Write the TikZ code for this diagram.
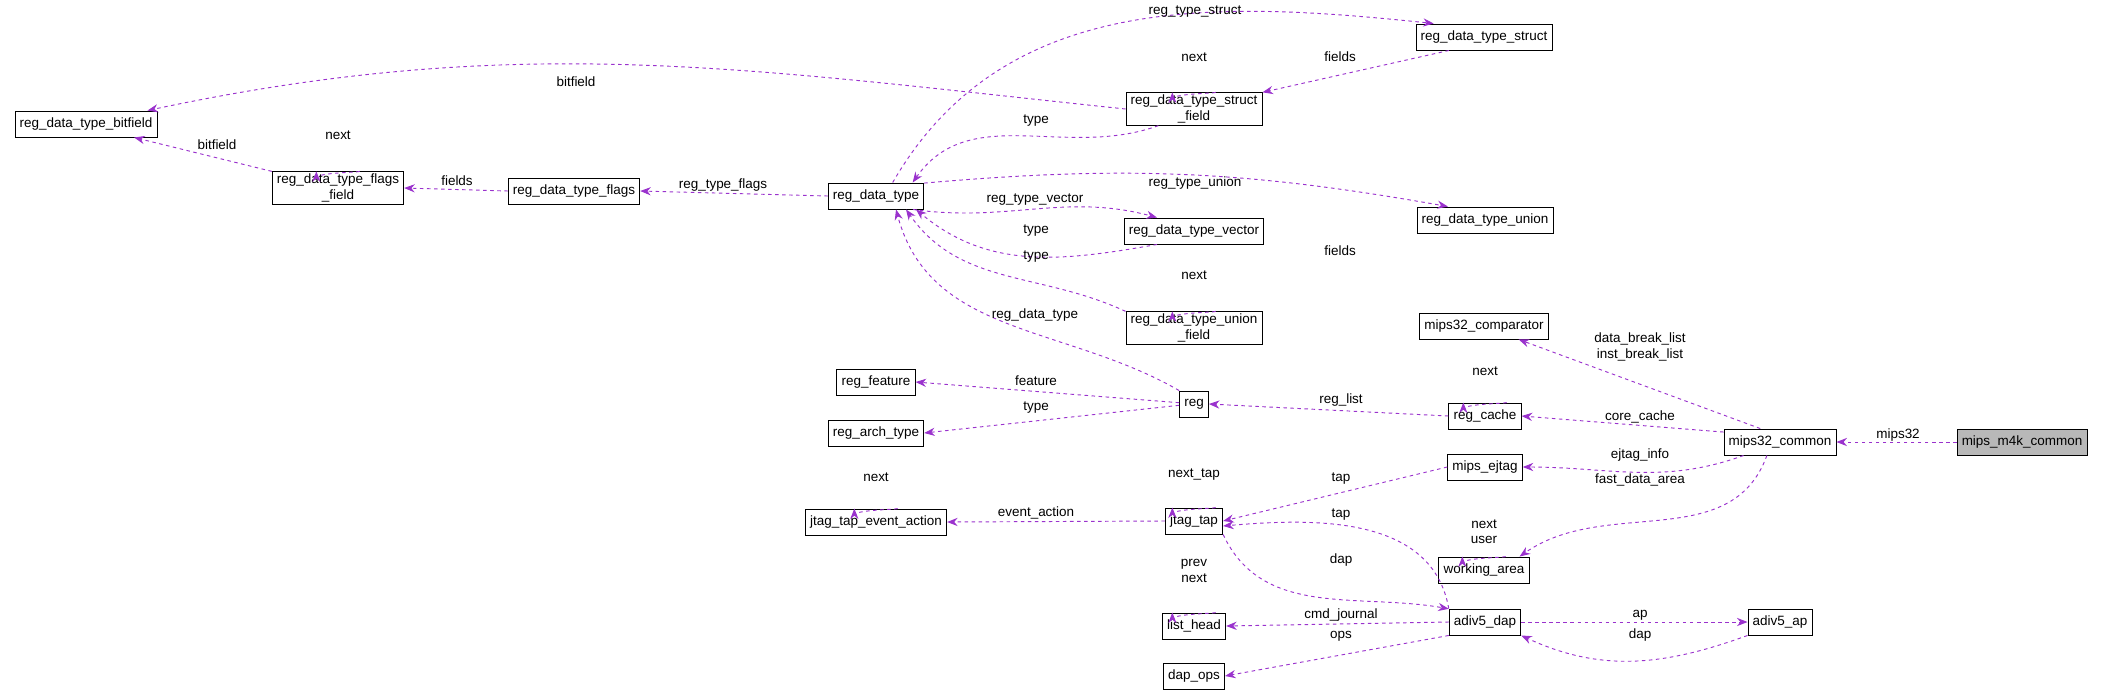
\documentclass[tikz,border=0pt]{standalone}
\usepackage{fontspec}
\setmainfont{Liberation Sans}
\usetikzlibrary{arrows.meta}
\definecolor{edgepurple}{HTML}{9A32CD}

\begin{document}
\begin{tikzpicture}[x=0.03cm,y=-0.03cm,
    box/.style={draw=black,thick,fill=white,font=\fontsize{11.5}{13}\selectfont,
      inner xsep=4pt,inner ysep=2pt,minimum height=0.78cm,align=center},
    lbl/.style={font=\fontsize{11.5}{13}\selectfont,inner sep=1pt,align=center},
    edge/.style={draw=edgepurple,thick,dashed,-{Stealth[length=9pt,width=7pt]}},
    selfloop/.style={edge,looseness=1}]

        % Page frame
        \useasboundingbox (0,0) rectangle (2104,695);

        % Classes
        \node[box] (bitfield) at (86,124)   {reg\_data\_type\_bitfield};
        \node[box] (ffield)   at (338,188)  {reg\_data\_type\_flags\\\_field};
        \node[box] (flags)    at (574,191)  {reg\_data\_type\_flags};
        \node[box] (rdt)      at (876,196)  {reg\_data\_type};
        \node[box] (struct)   at (1484,37)  {reg\_data\_type\_struct};
        \node[box] (sfield)   at (1194,109) {reg\_data\_type\_struct\\\_field};
        \node[box] (union)    at (1485,220) {reg\_data\_type\_union};
        \node[box] (vector)   at (1194,231) {reg\_data\_type\_vector};
        \node[box] (ufield)   at (1194,328) {reg\_data\_type\_union\\\_field};
        \node[box] (cmp)      at (1484,326) {mips32\_comparator};
        \node[box] (feature)  at (876,382)  {reg\_feature};
        \node[box] (arch)     at (876,433)  {reg\_arch\_type};
        \node[box] (reg)      at (1194,404) {reg};
        \node[box] (rcache)   at (1485,416) {reg\_cache};
        \node[box] (m32)      at (1780,442) {mips32\_common};
        \node[box,fill=black!28] (m4k) at (2022,442) {mips\_m4k\_common};
        \node[box] (ejtag)    at (1485,467) {mips\_ejtag};
        \node[box] (jtea)     at (876,522)  {jtag\_tap\_event\_action};
        \node[box] (jtap)     at (1194,521) {jtag\_tap};
        \node[box] (warea)    at (1484,570) {working\_area};
        \node[box] (lhead)    at (1194,626) {list\_head};
        \node[box] (dap)      at (1485,622) {adiv5\_dap};
        \node[box] (ap)       at (1780,622) {adiv5\_ap};
        \node[box] (ops)      at (1194,676) {dap\_ops};

        % Members
        \draw[edge] (sfield.west) to[out=174,in=12] ([xshift=-0.3cm]bitfield.north east);
        \draw[edge] (ffield.north west) -- ([xshift=-0.7cm]bitfield.south east);
        \draw[edge] (flags.west) -- (ffield.east);
        \draw[edge] (rdt.west) -- (flags.east);
        \draw[edge] ([xshift=0.5cm]rdt.north) to[out=60,in=174] (struct.165);
        \draw[edge] ([xshift=1cm]struct.south west) -- (sfield.north east);
        \draw[edge] (sfield.205) to[out=200,in=55] ([xshift=1.1cm]rdt.north);
        \draw[edge] (rdt.15) to[out=5,in=170] (union.160);
        \draw[edge] (rdt.-20) to[out=-8,in=165] (vector.160);
        \draw[edge] (vector.200) to[out=190,in=-40] ([xshift=1.2cm]rdt.south);
        \draw[edge] (ufield.north west) to[out=155,in=-55] ([xshift=0.9cm]rdt.south);
        \draw[edge] (reg.north west) to[out=150,in=-75] ([xshift=0.6cm]rdt.south);
        \draw[edge] (reg.175) -- (feature.east);
        \draw[edge] (reg.185) -- (arch.east);
        \draw[edge] (rcache.west) -- (reg.east);
        \draw[edge] ([xshift=1.1cm]m32.north west) -- ([xshift=-0.9cm]cmp.south east);
        \draw[edge] (m32.170) -- (rcache.east);
        \draw[edge] (m4k.west) -- (m32.east);
        \draw[edge] ([xshift=0.6cm]m32.south west) to[out=200,in=0] (ejtag.east);
        \draw[edge] ([xshift=1.3cm]m32.south west) to[out=-110,in=35] ([xshift=-0.3cm]warea.north east);
        \draw[edge] (ejtag.west) -- (jtap.east);
        \draw[edge] (jtap.west) -- (jtea.east);
        \draw[edge] (dap.north west) to[out=100,in=5] ([yshift=-0.15cm]jtap.east);
        \draw[edge] (jtap.south east) to[out=-65,in=170] (dap.160);
        \draw[edge] (dap.west) -- (lhead.east);
        \draw[edge] (dap.south west) -- (ops.east);
        \draw[edge] (dap.east) -- (ap.west);
        \draw[edge] (ap.south west) to[out=200,in=-25] (dap.south east);

        % Self references
        \foreach \n in {ffield,sfield,ufield,rcache,warea,jtap,jtea,lhead}
        {
            \draw[selfloop] ([xshift=0.65cm]\n.north) .. controls +(0,1.1) and +(0,1.1) .. ([xshift=-0.65cm]\n.north);
        }

        % Labels
        \node[lbl] (l1)  at (576,82)    {bitfield};
        \node[lbl] (l2)  at (217,145)   {bitfield};
        \node[lbl] (l3)  at (338,135)   {next};
        \node[lbl] (l4)  at (457,181)   {fields};
        \node[lbl] (l5)  at (723,185)   {reg\_type\_flags};
        \node[lbl] (l6)  at (1195,12)   {reg\_type\_struct};
        \node[lbl] (l7)  at (1340,57)   {fields};
        \node[lbl] (l8)  at (1194,57)   {next};
        \node[lbl] (l9)  at (1036,121)  {type};
        \node[lbl] (l10) at (1195,183)  {reg\_type\_union};
        \node[lbl] (l11) at (1035,200)  {reg\_type\_vector};
        \node[lbl] (l12) at (1036,231)  {type};
        \node[lbl] (l13) at (1036,257)  {type};
        \node[lbl] (l14) at (1340,251)  {fields};
        \node[lbl] (l15) at (1194,275)  {next};
        \node[lbl] (l16) at (1035,315)  {reg\_data\_type};
        \node[lbl] (l17) at (1036,381)  {feature};
        \node[lbl] (l18) at (1036,408)  {type};
        \node[lbl] (l19) at (1341,400)  {reg\_list};
        \node[lbl] (l20) at (1485,371)  {next};
        \node[lbl] (l21) at (1640,347)  {data\_break\_list\\inst\_break\_list};
        \node[lbl] (l22) at (1640,417)  {core\_cache};
        \node[lbl] (l23) at (1898,435)  {mips32};
        \node[lbl] (l24) at (1640,455)  {ejtag\_info};
        \node[lbl] (l25) at (1640,480)  {fast\_data\_area};
        \node[lbl] (l26) at (1484,532)  {next\\user};
        \node[lbl] (l27) at (1341,479)  {tap};
        \node[lbl] (l28) at (1194,475)  {next\_tap};
        \node[lbl] (l29) at (1036,513)  {event\_action};
        \node[lbl] (l30) at (876,477)   {next};
        \node[lbl] (l31) at (1341,515)  {tap};
        \node[lbl] (l32) at (1341,560)  {dap};
        \node[lbl] (l33) at (1194,571)  {prev\\next};
        \node[lbl] (l34) at (1341,615)  {cmd\_journal};
        \node[lbl] (l35) at (1341,636)  {ops};
        \node[lbl] (l36) at (1640,615)  {ap};
        \node[lbl] (l37) at (1640,635)  {dap};

\end{tikzpicture}
\end{document}
